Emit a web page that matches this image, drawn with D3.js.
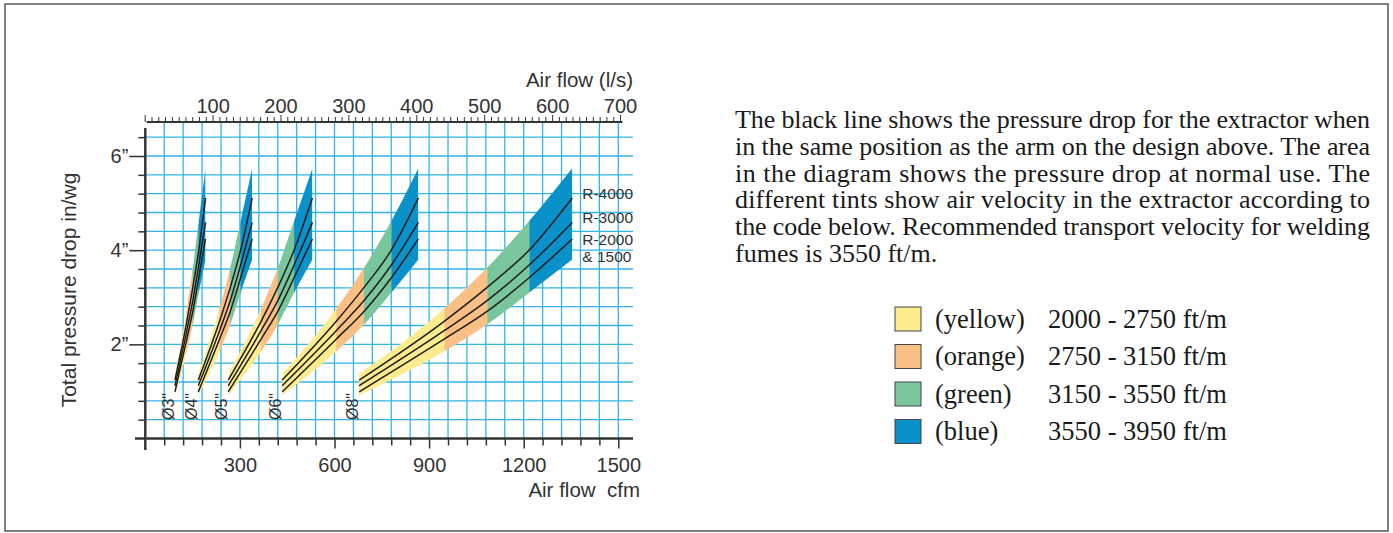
<!DOCTYPE html>
<html>
<head>
<meta charset="utf-8">
<script src="https://cdn.jsdelivr.net/npm/d3@7"></script>
<style>
  body { margin: 0; background: #fff; }
  svg { display: block; }
</style>
</head>
<body>
<div id="chart"></div>
<script>
// Air flow (cfm) at the velocity stops 2000, 2750, 3150, 3550, 3950 ft/m, per duct
const ductLabels = ["Ø3\"", "Ø4\"", "Ø5\"", "Ø6\"", "Ø8\""];
const flowD3 = [94, 132, 151, 170, 191];
const flowD4 = [168, 236, 270, 303, 339];
const flowD5 = [263, 368, 421, 473, 530];
const flowD6 = [434, 607, 695, 782, 866];
const flowD8 = [678, 950, 1086, 1220, 1354];

// Pressure drop (in/wg) at the same stops
const bandTop = [1.37, 2.77, 3.64, 4.64, 5.74];
const bandBottom = [0.92, 1.86, 2.43, 3.11, 3.80];
const lineR4000 = [1.24, 2.50, 3.22, 4.02, 5.11];
const lineR3000 = [1.12, 2.30, 2.94, 3.70, 4.59];
const lineR2000 = [0.99, 2.12, 2.71, 3.43, 4.24];
const lineLabels = ["R-4000", "R-3000", "R-2000", "& 1500"];

// Legend
const tintNames = ["(yellow)", "(orange)", "(green)", "(blue)"];
const tintRanges = ["2000 - 2750 ft/m", "2750 - 3150 ft/m", "3150 - 3550 ft/m", "3550 - 3950 ft/m"];
const tintColors = ["#fdec8e", "#f9bf84", "#79c59c", "#0a91ca"];

// Axes ticks
const cfmLabels = [300, 600, 900, 1200, 1500];
const lsLabels = [100, 200, 300, 400, 500, 600, 700];
const pressureLabels = [2, 4, 6];

const noteLines = [
  "The black line shows the pressure drop for the extractor when",
  "in the same position as the arm on the design above. The area",
  "in the diagram shows the pressure drop at normal use. The",
  "different tints show air velocity in the extractor according to",
  "the code below. Recommended transport velocity for welding",
  "fumes is 3550 ft/m."
];

const W = 1393, H = 533;
const svg = d3.select("#chart").append("svg")
    .attr("width", W)
    .attr("height", H);

// outer frame
svg.append("rect")
    .attr("x", 5).attr("y", 4)
    .attr("width", W - 10).attr("height", H - 6)
    .attr("fill", "none")
    .attr("stroke", "#555")
    .attr("stroke-width", 1.5);

// scales
const x = d3.scaleLinear().domain([0, 1500]).range([145.3, 618.3]);
const xTop = d3.scaleLinear().domain([0, 700]).range([144.7, 620]);
const y = d3.scaleLinear().domain([0, 6]).range([438.5, 156]);

const gridColor = "#33b4e8";
const axisColor = "#333";
const sans = "'Liberation Sans', Arial, sans-serif";
const serif = "'Liberation Serif', 'Times New Roman', serif";

// grid
const gridX = d3.range(60, 1501, 60);
const gridY = d3.range(1, 17).map(i => i * 0.4);

svg.append("g").selectAll("line")
    .data(gridX)
    .enter().append("line")
    .attr("x1", d => x(d)).attr("x2", d => x(d))
    .attr("y1", y(0)).attr("y2", 122)
    .attr("stroke", gridColor)
    .attr("stroke-width", 1.3);

svg.append("g").selectAll("line")
    .data(gridY)
    .enter().append("line")
    .attr("x1", x(0)).attr("x2", 633)
    .attr("y1", d => y(d)).attr("y2", d => y(d))
    .attr("stroke", gridColor)
    .attr("stroke-width", 1.3);

// bands
const ducts = [flowD3, flowD4, flowD5, flowD6, flowD8].map((flow, i) => ({ label: ductLabels[i], flow: flow }));
const defs = svg.append("defs");

const area = d3.area()
    .x(d => x(d.f))
    .y0(d => y(d.bot))
    .y1(d => y(d.top))
    .curve(d3.curveMonotoneX);

const line = d3.line()
    .x(d => x(d.f))
    .y(d => y(d.p))
    .curve(d3.curveMonotoneX);

const bands = svg.append("g");

ducts.forEach((duct, di) => {
    const pts = duct.flow.map((f, i) => ({ f: f, top: bandTop[i], bot: bandBottom[i] }));

    for (let s = 0; s < 4; s++) {
        const id = "clip-" + di + "-" + s;
        defs.append("clipPath").attr("id", id)
            .append("rect")
            .attr("x", x(duct.flow[s]) - (s > 0 ? 0.4 : 0))
            .attr("y", 0)
            .attr("width", x(duct.flow[s + 1]) - x(duct.flow[s]) + 0.4)
            .attr("height", H);
        bands.append("path")
            .attr("d", area(pts))
            .attr("fill", tintColors[s])
            .attr("clip-path", "url(#" + id + ")");
    }

    [lineR4000, lineR3000, lineR2000].forEach(vals => {
        bands.append("path")
            .attr("d", line(duct.flow.map((f, i) => ({ f: f, p: vals[i] }))))
            .attr("fill", "none")
            .attr("stroke", "#1e1e1e")
            .attr("stroke-width", 1.5);
    });

    // duct size label
    svg.append("text")
        .attr("transform", "translate(" + (x(duct.flow[0]) - 1) + ",420) rotate(-90)")
        .attr("font-family", sans)
        .attr("font-size", "16px")
        .attr("fill", axisColor)
        .text(duct.label);
});

// R- labels at the right end of the largest duct
const lastFlow = flowD8[flowD8.length - 1];
const rLabelY = [lineR4000[4], lineR3000[4], lineR2000[4]];
svg.append("g").selectAll("text")
    .data(lineLabels)
    .enter().append("text")
    .attr("x", x(lastFlow) + 10)
    .attr("y", (d, i) => [y(rLabelY[0]) + 1, y(rLabelY[1]) + 1, y(rLabelY[2]) + 6, y(rLabelY[2]) + 23][i])
    .attr("font-family", sans)
    .attr("font-size", "15.5px")
    .attr("fill", axisColor)
    .text(d => d);

// bottom axis (cfm)
const bottomAxis = svg.append("g")
    .attr("transform", "translate(0," + y(0) + ")")
    .call(d3.axisBottom(x)
        .tickValues(gridX)
        .tickSizeInner(7)
        .tickSizeOuter(0)
        .tickFormat(d => cfmLabels.includes(d) ? d : ""));
bottomAxis.select(".domain").remove();
bottomAxis.selectAll(".tick line")
    .attr("stroke", axisColor)
    .attr("stroke-width", 1.5)
    .attr("y2", d => d % 300 === 0 ? 10 : 7);
bottomAxis.selectAll(".tick text")
    .attr("y", 19)
    .attr("font-family", sans)
    .attr("font-size", "20px")
    .attr("fill", axisColor);
svg.append("line")
    .attr("x1", 135).attr("x2", 633)
    .attr("y1", y(0)).attr("y2", y(0))
    .attr("stroke", axisColor)
    .attr("stroke-width", 2.5);

// top axis (l/s)
const topAxis = svg.append("g")
    .attr("transform", "translate(0,122)")
    .call(d3.axisTop(xTop)
        .tickValues(d3.range(0, 701, 10))
        .tickSizeInner(5)
        .tickSizeOuter(0)
        .tickFormat(d => lsLabels.includes(d) ? d : ""));
topAxis.select(".domain").remove();
topAxis.selectAll(".tick line")
    .attr("stroke", axisColor)
    .attr("stroke-width", 1)
    .attr("y2", d => d % 100 === 0 ? -7 : -5);
topAxis.selectAll(".tick text")
    .attr("y", -9.5)
    .attr("dy", 0)
    .attr("font-family", sans)
    .attr("font-size", "20px")
    .attr("fill", axisColor);
svg.append("line")
    .attr("x1", xTop(0) + 2).attr("x2", 622.5)
    .attr("y1", 122).attr("y2", 122)
    .attr("stroke", axisColor)
    .attr("stroke-width", 2.2);

// left axis (in/wg)
const leftAxis = svg.append("g")
    .attr("transform", "translate(" + x(0) + ",0)")
    .call(d3.axisLeft(y)
        .tickValues(gridY)
        .tickSizeInner(7)
        .tickSizeOuter(0)
        .tickFormat(d => pressureLabels.some(p => Math.abs(p - d) < 1e-6) ? Math.round(d) + "”" : ""));
leftAxis.select(".domain").remove();
leftAxis.selectAll(".tick line")
    .attr("stroke", axisColor)
    .attr("stroke-width", 1.5)
    .attr("x2", d => pressureLabels.some(p => Math.abs(p - d) < 1e-6) ? -16 : -7);
leftAxis.selectAll(".tick text")
    .attr("x", -17)
    .attr("font-family", sans)
    .attr("font-size", "20px")
    .attr("fill", axisColor);
svg.append("line")
    .attr("x1", x(0)).attr("x2", x(0))
    .attr("y1", 128).attr("y2", 450)
    .attr("stroke", axisColor)
    .attr("stroke-width", 2.5);

// axis titles
svg.append("text")
    .attr("x", 633).attr("y", 86.5)
    .attr("text-anchor", "end")
    .attr("font-family", sans)
    .attr("font-size", "20.5px")
    .attr("fill", axisColor)
    .text("Air flow (l/s)");

svg.append("text")
    .attr("x", 640).attr("y", 497)
    .attr("text-anchor", "end")
    .attr("font-family", sans)
    .attr("font-size", "20.5px")
    .attr("fill", axisColor)
    .style("white-space", "pre")
    .text("Air flow  cfm");

svg.append("text")
    .attr("transform", "translate(76,290) rotate(-90)")
    .attr("text-anchor", "middle")
    .attr("font-family", sans)
    .attr("font-size", "21px")
    .attr("fill", axisColor)
    .text("Total pressure drop in/wg");

// explanatory note, justified except the last line
svg.append("g").selectAll("text")
    .data(noteLines)
    .enter().append("text")
    .attr("x", 735)
    .attr("y", (d, i) => 128 + i * 26.8)
    .attr("font-family", serif)
    .attr("font-size", "26px")
    .attr("fill", "#1a1a1a")
    .each(function(d, i) {
        if (i < noteLines.length - 1) {
            d3.select(this)
                .attr("textLength", 635)
                .attr("lengthAdjust", "spacing");
        }
    })
    .text(d => d);

// legend
const legend = svg.append("g").selectAll("g")
    .data(tintNames)
    .enter().append("g")
    .attr("transform", (d, i) => "translate(895," + (307 + i * 37.5) + ")");

legend.append("rect")
    .attr("width", 26)
    .attr("height", 24)
    .attr("fill", (d, i) => tintColors[i])
    .attr("stroke", "#444")
    .attr("stroke-width", 1);

legend.append("text")
    .attr("x", 40).attr("y", 20.5)
    .attr("font-family", serif)
    .attr("font-size", "26.5px")
    .attr("fill", "#1a1a1a")
    .text(d => d);

legend.append("text")
    .attr("x", 153).attr("y", 20.5)
    .attr("font-family", serif)
    .attr("font-size", "26.5px")
    .attr("fill", "#1a1a1a")
    .text((d, i) => tintRanges[i]);
</script>
</body>
</html>
